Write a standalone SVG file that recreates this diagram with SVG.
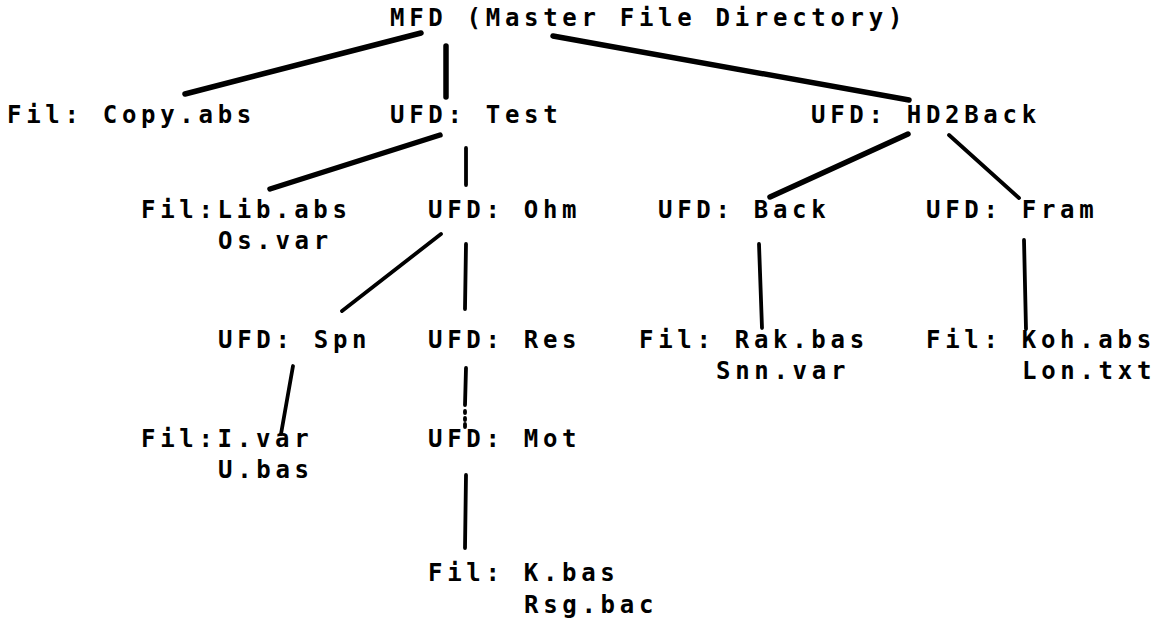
<svg xmlns="http://www.w3.org/2000/svg" width="1156" height="638" viewBox="0 0 1156 638">
<style>
text{font-family:"DejaVu Sans Mono","Liberation Mono",monospace;font-weight:bold;font-size:24px;letter-spacing:4.7px;fill:#000}
.c{stroke:#000;fill:none;stroke-linecap:round;stroke-width:5.5}
.t{stroke-width:3.8}
</style>
<rect width="1156" height="638" fill="#fff"/>
<g id="connectors">
<line class="c" x1="421" y1="33" x2="185" y2="94"/>
<line class="c" x1="446" y1="46" x2="446" y2="97"/>
<line class="c" x1="553" y1="36" x2="909" y2="100"/>
<line class="c" x1="440" y1="135" x2="270" y2="189"/>
<line class="c t" x1="466" y1="148" x2="466" y2="185"/>
<line class="c" x1="908" y1="134" x2="770" y2="197"/>
<line class="c t" x1="949" y1="135" x2="1019" y2="198"/>
<line class="c t" x1="441" y1="234" x2="342" y2="311"/>
<line class="c t" x1="466" y1="244" x2="465" y2="309"/>
<line class="c t" x1="293" y1="366" x2="281" y2="434"/>
<path class="c t" d="M466 368 L465 405"/>
<path class="c t" d="M465 411 L465 413 M465 418 L465 420 M465 424 L465 427"/>
<line class="c t" x1="466" y1="475" x2="465" y2="548"/>
<line class="c t" x1="759" y1="244" x2="762" y2="328"/>
<line class="c t" x1="1024" y1="240" x2="1026" y2="329"/>
</g>
<g id="n_mfd"><text x="390" y="26">MFD (Master File Directory)</text></g>
<g id="n_copy"><text x="7" y="123">Fil: Copy.abs</text></g>
<g id="n_test"><text x="390" y="123">UFD: Test</text></g>
<g id="n_hd2back"><text x="811" y="123">UFD: HD2Back</text></g>
<g id="n_lib"><text x="141" y="218">Fil:Lib.abs</text><text x="218" y="249">Os.var</text></g>
<g id="n_ohm"><text x="428" y="218">UFD: Ohm</text></g>
<g id="n_back"><text x="658" y="218">UFD: Back</text></g>
<g id="n_fram"><text x="926" y="218">UFD: Fram</text></g>
<g id="n_spn"><text x="218" y="348">UFD: Spn</text></g>
<g id="n_res"><text x="428" y="348">UFD: Res</text></g>
<g id="n_rak"><text x="639" y="348">Fil: Rak.bas</text><text x="716" y="379">Snn.var</text></g>
<g id="n_koh"><text x="926" y="348">Fil: Koh.abs</text><text x="1022" y="379">Lon.txt</text></g>
<g id="n_ivar"><text x="141" y="447">Fil:I.var</text><text x="218" y="478">U.bas</text></g>
<g id="n_mot"><text x="428" y="447">UFD: Mot</text></g>
<g id="n_k"><text x="428" y="581">Fil: K.bas</text><text x="524" y="613">Rsg.bac</text></g>
</svg>
